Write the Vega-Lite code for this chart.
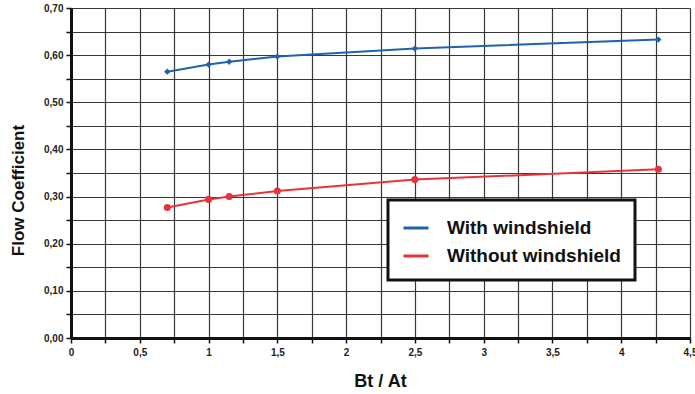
{
  "$schema": "https://vega.github.io/schema/vega-lite/v6.json",
  "width": 619,
  "height": 330,
  "autosize": {"type": "none"},
  "padding": {"left": 71, "top": 8, "right": 5, "bottom": 56},
  "background": "white",
  "config": {
    "view": {"stroke": null},
    "font": "Liberation Sans"
  },
  "data": {
    "values": [
      {"ratio": 0.7, "coef": 0.565, "series": "With windshield"},
      {"ratio": 1.0, "coef": 0.58, "series": "With windshield"},
      {"ratio": 1.15, "coef": 0.586, "series": "With windshield"},
      {"ratio": 1.5, "coef": 0.597, "series": "With windshield"},
      {"ratio": 2.5, "coef": 0.614, "series": "With windshield"},
      {"ratio": 4.27, "coef": 0.633, "series": "With windshield"},
      {"ratio": 0.7, "coef": 0.277, "series": "Without windshield"},
      {"ratio": 1.0, "coef": 0.294, "series": "Without windshield"},
      {"ratio": 1.15, "coef": 0.30, "series": "Without windshield"},
      {"ratio": 1.5, "coef": 0.312, "series": "Without windshield"},
      {"ratio": 2.5, "coef": 0.336, "series": "Without windshield"},
      {"ratio": 4.27, "coef": 0.358, "series": "Without windshield"}
    ]
  },
  "encoding": {
    "x": {
      "field": "ratio", "type": "quantitative",
      "scale": {"domain": [0, 4.5], "nice": false},
      "axis": {
        "values": [0,0.25,0.5,0.75,1,1.25,1.5,1.75,2,2.25,2.5,2.75,3,3.25,3.5,3.75,4,4.25,4.5],
        "labelExpr": "round(datum.value*4) % 2 == 0 ? replace(format(datum.value, '~g'), '.', ',') : ''",
        "title": "Bt / At",
        "titleFontSize": 18, "titleFontWeight": "bold", "titleColor": "#111",
        "titleX": 309, "titleY": 43, "titleBaseline": "middle",
        "labelFontSize": 10, "labelFontWeight": "bold", "labelColor": "#222",
        "labelPadding": 4, "labelFlush": false,
        "domainColor": "#111", "domainWidth": 3,
        "tickColor": "#111", "tickSize": 5, "tickWidth": 1.5,
        "grid": true, "gridColor": "#222", "gridWidth": 1.2, "gridOpacity": 0.9
      }
    },
    "y": {
      "field": "coef", "type": "quantitative",
      "scale": {"domain": [0, 0.7], "nice": false},
      "axis": {
        "values": [0,0.05,0.1,0.15,0.2,0.25,0.3,0.35,0.4,0.45,0.5,0.55,0.6,0.65,0.7],
        "labelExpr": "round(datum.value*100) % 10 == 0 ? replace(format(datum.value, '.2f'), '.', ',') : ''",
        "title": "Flow Coefficient",
        "titleFontSize": 17, "titleFontWeight": "bold", "titleColor": "#111",
        "titleX": -53, "titleY": 182, "titleAngle": -90, "titleAlign": "center", "titleBaseline": "middle",
        "labelFontSize": 10, "labelFontWeight": "bold", "labelColor": "#222",
        "labelPadding": 3,
        "domainColor": "#111", "domainWidth": 3,
        "tickColor": "#111", "tickSize": 5, "tickWidth": 1.5,
        "grid": true, "gridColor": "#222", "gridWidth": 1.2, "gridOpacity": 0.9
      }
    },
    "color": {
      "field": "series", "type": "nominal",
      "scale": {"domain": ["With windshield", "Without windshield"], "range": ["#1f63ad", "#e8323c"]},
      "legend": {
        "title": null,
        "orient": "none", "legendX": 317, "legendY": 192,
        "symbolType": "stroke", "symbolSize": 625, "symbolStrokeWidth": 3,
        "labelFontSize": 19, "labelFontWeight": "bold", "labelColor": "#111",
        "labelOffset": 17, "rowPadding": 4, "labelLimit": 300,
        "padding": 14,
        "fillColor": "white", "strokeColor": "#111",
        "encode": {
          "legend": {"update": {"strokeWidth": {"value": 3}}},
          "symbols": {"update": {
            "shape": {"value": "stroke"},
            "stroke": {"scale": "color", "field": "value"},
            "strokeWidth": {"value": 3},
            "size": {"value": 625}
          }}
        }
      }
    }
  },
  "layer": [
    {"mark": {"type": "line", "strokeWidth": 2}},
    {
      "transform": [{"filter": "datum.series == 'With windshield'"}],
      "mark": {"type": "point", "filled": true, "opacity": 1, "size": 40, "shape": "diamond"}
    },
    {
      "transform": [{"filter": "datum.series == 'Without windshield'"}],
      "mark": {"type": "point", "filled": true, "opacity": 1, "size": 50, "shape": "circle"}
    }
  ]
}
